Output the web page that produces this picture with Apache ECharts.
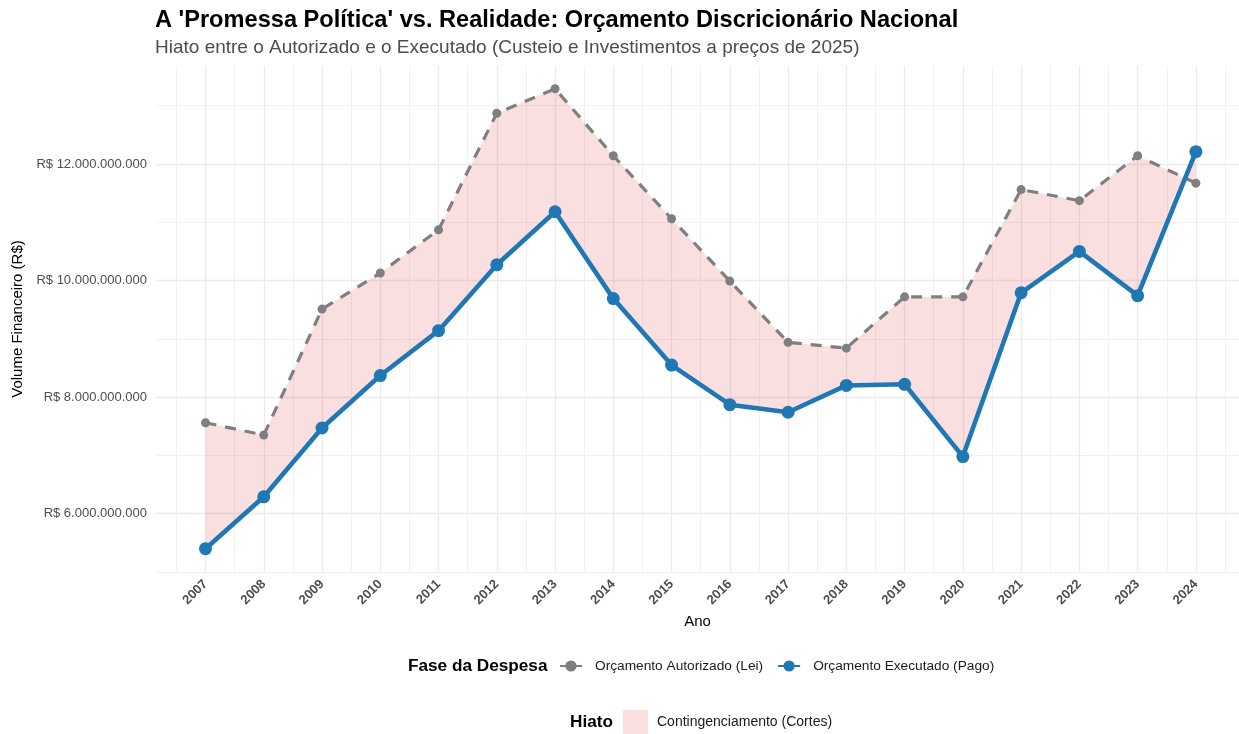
<!DOCTYPE html>
<html>
<head>
<meta charset="utf-8">
<script src="https://cdn.jsdelivr.net/npm/echarts@6/dist/echarts.min.js"></script>
<style>
  html, body { margin: 0; padding: 0; background: #ffffff; }
  #chart { width: 1239px; height: 734px; }
</style>
</head>
<body>
<div id="chart"></div>
<script>
// Anos da série
const anos = [2007, 2008, 2009, 2010, 2011, 2012, 2013, 2014, 2015,
              2016, 2017, 2018, 2019, 2020, 2021, 2022, 2023, 2024];

// Orçamento autorizado em lei (R$, preços de 2025)
const autorizado = [7.56e9, 7.35e9, 9.51e9, 10.13e9, 10.87e9, 12.87e9, 13.29e9, 12.14e9, 11.06e9,
                    9.99e9, 8.94e9, 8.84e9, 9.72e9, 9.72e9, 11.56e9, 11.37e9, 12.14e9, 11.67e9];

// Orçamento efetivamente pago (R$, preços de 2025)
const executado = [5.40e9, 6.29e9, 7.47e9, 8.37e9, 9.14e9, 10.27e9, 11.18e9, 9.69e9, 8.55e9,
                   7.87e9, 7.74e9, 8.20e9, 8.22e9, 6.98e9, 9.79e9, 10.50e9, 9.74e9, 12.21e9];

// Marcas dos eixos
const yTicksMajor = [6e9, 8e9, 10e9, 12e9];
const yTicksMinor = [5e9, 7e9, 9e9, 11e9, 13e9];
const xTicksMinor = [2006.5, 2007.5, 2008.5, 2009.5, 2010.5, 2011.5, 2012.5, 2013.5, 2014.5,
                     2015.5, 2016.5, 2017.5, 2018.5, 2019.5, 2020.5, 2021.5, 2022.5, 2023.5, 2024.5];

const nomeAut = 'Orçamento Autorizado (Lei)';
const nomeExe = 'Orçamento Executado (Pago)';
const nomeHiato = 'Contingenciamento (Cortes)';

const FONT = '"Liberation Sans", Arial, Helvetica, sans-serif';
const corHiato = 'rgba(214, 39, 40, 0.15)';

function formatReais(v) {
  return 'R$ ' + String(Math.round(v)).replace(/\B(?=(\d{3})+(?!\d))/g, '.');
}

const xMin = 2006.15, xMax = 2024.74;
const yMin = 5e9, yMax = 13.68e9;

const chart = echarts.init(document.getElementById('chart'), null, { renderer: 'canvas' });

const option = {
  animation: false,
  backgroundColor: '#ffffff',
  textStyle: { fontFamily: FONT },
  grid: { left: 156, top: 66, right: 0, height: 506, containLabel: false },
  xAxis: [
    {
      type: 'value', min: xMin, max: xMax,
      name: 'Ano', nameLocation: 'middle', nameGap: 41,
      nameTextStyle: { fontFamily: FONT, fontSize: 15, color: '#000000' },
      axisLine: { show: false },
      axisTick: { show: false, customValues: anos },
      axisLabel: {
        customValues: anos, rotate: 45, margin: 10,
        fontFamily: FONT, fontSize: 13, fontWeight: 'bold', color: '#4d4d4d',
        formatter: v => String(v)
      },
      splitLine: { show: true, lineStyle: { color: '#ebebeb', width: 1.3 } }
    },
    {
      type: 'value', min: xMin, max: xMax, position: 'bottom',
      axisLine: { show: false },
      axisTick: { show: false, customValues: xTicksMinor },
      axisLabel: { show: false },
      splitLine: { show: true, lineStyle: { color: '#f1f1f1', width: 1 } }
    }
  ],
  yAxis: [
    {
      type: 'value', min: yMin, max: yMax,
      name: 'Volume Financeiro (R$)', nameLocation: 'middle', nameGap: 131, nameRotate: 90,
      nameTextStyle: { fontFamily: FONT, fontSize: 15, color: '#000000' },
      axisLine: { show: false },
      axisTick: { show: false, customValues: yTicksMajor },
      axisLabel: {
        customValues: yTicksMajor, margin: 9,
        fontFamily: FONT, fontSize: 13, color: '#4d4d4d',
        formatter: formatReais
      },
      splitLine: { show: true, lineStyle: { color: '#ebebeb', width: 1.3 } }
    },
    {
      type: 'value', min: yMin, max: yMax, position: 'left',
      axisLine: { show: false },
      axisTick: { show: false, customValues: yTicksMinor },
      axisLabel: { show: false },
      splitLine: { show: true, lineStyle: { color: '#f1f1f1', width: 1 } }
    }
  ],
  legend: [
    {
      data: [nomeAut, nomeExe],
      left: 559, top: 659, padding: 0,
      itemWidth: 22, itemHeight: 14, itemGap: 14,
      lineStyle: { type: 'solid' },
      textStyle: { fontFamily: FONT, fontSize: 13.7, color: '#1a1a1a', padding: [0, 0, 0, 8] },
      selectedMode: false
    },
    {
      data: [{ name: nomeHiato, icon: 'rect' }],
      left: 623, top: 710, padding: 0,
      itemWidth: 25, itemHeight: 24, itemGap: 10,
      textStyle: { fontFamily: FONT, fontSize: 14, color: '#1a1a1a', padding: [0, 0, 0, 4] },
      selectedMode: false
    }
  ],
  graphic: [
    {
      type: 'text', left: 155, top: 8,
      style: {
        text: "A 'Promessa Política' vs. Realidade: Orçamento Discricionário Nacional",
        fontFamily: FONT, fontSize: 23.6, fontWeight: 'bold', fill: '#000000'
      }
    },
    {
      type: 'text', left: 155, top: 38.5,
      style: {
        text: 'Hiato entre o Autorizado e o Executado (Custeio e Investimentos a preços de 2025)',
        fontFamily: FONT, fontSize: 19, fill: '#4d4d4d'
      }
    },
    {
      type: 'text', left: 408, top: 657.5,
      style: { text: 'Fase da Despesa', fontFamily: FONT, fontSize: 17.2, fontWeight: 'bold', fill: '#000000' }
    },
    {
      type: 'text', left: 570, top: 714,
      style: { text: 'Hiato', fontFamily: FONT, fontSize: 17.2, fontWeight: 'bold', fill: '#000000' }
    }
  ],
  series: [
    {
      // faixa entre autorizado e executado
      name: nomeHiato,
      type: 'custom',
      xAxisIndex: 0, yAxisIndex: 0,
      z: 1,
      itemStyle: { color: corHiato },
      data: anos.map((a, i) => [a, autorizado[i], executado[i]]),
      encode: { x: 0, y: [1, 2] },
      renderItem: function (params, api) {
        if (params.dataIndex !== 0) return null;
        const pts = [];
        for (let i = 0; i < anos.length; i++) pts.push(api.coord([anos[i], autorizado[i]]));
        for (let i = anos.length - 1; i >= 0; i--) pts.push(api.coord([anos[i], executado[i]]));
        return { type: 'polygon', shape: { points: pts }, style: { fill: corHiato } };
      },
      silent: true
    },
    {
      name: nomeAut,
      type: 'line',
      xAxisIndex: 0, yAxisIndex: 0,
      z: 3,
      data: anos.map((a, i) => [a, autorizado[i]]),
      symbol: 'circle', symbolSize: 9,
      lineStyle: { color: '#7f7f7f', width: 3.2, type: [11, 9] },
      itemStyle: { color: '#7f7f7f' },
      emphasis: { disabled: true },
      silent: true
    },
    {
      name: nomeExe,
      type: 'line',
      xAxisIndex: 0, yAxisIndex: 0,
      z: 4,
      data: anos.map((a, i) => [a, executado[i]]),
      symbol: 'circle', symbolSize: 13,
      lineStyle: { color: '#1f77b4', width: 4.6 },
      itemStyle: { color: '#1f77b4' },
      emphasis: { disabled: true },
      silent: true
    }
  ]
};

chart.setOption(option);
</script>
</body>
</html>
